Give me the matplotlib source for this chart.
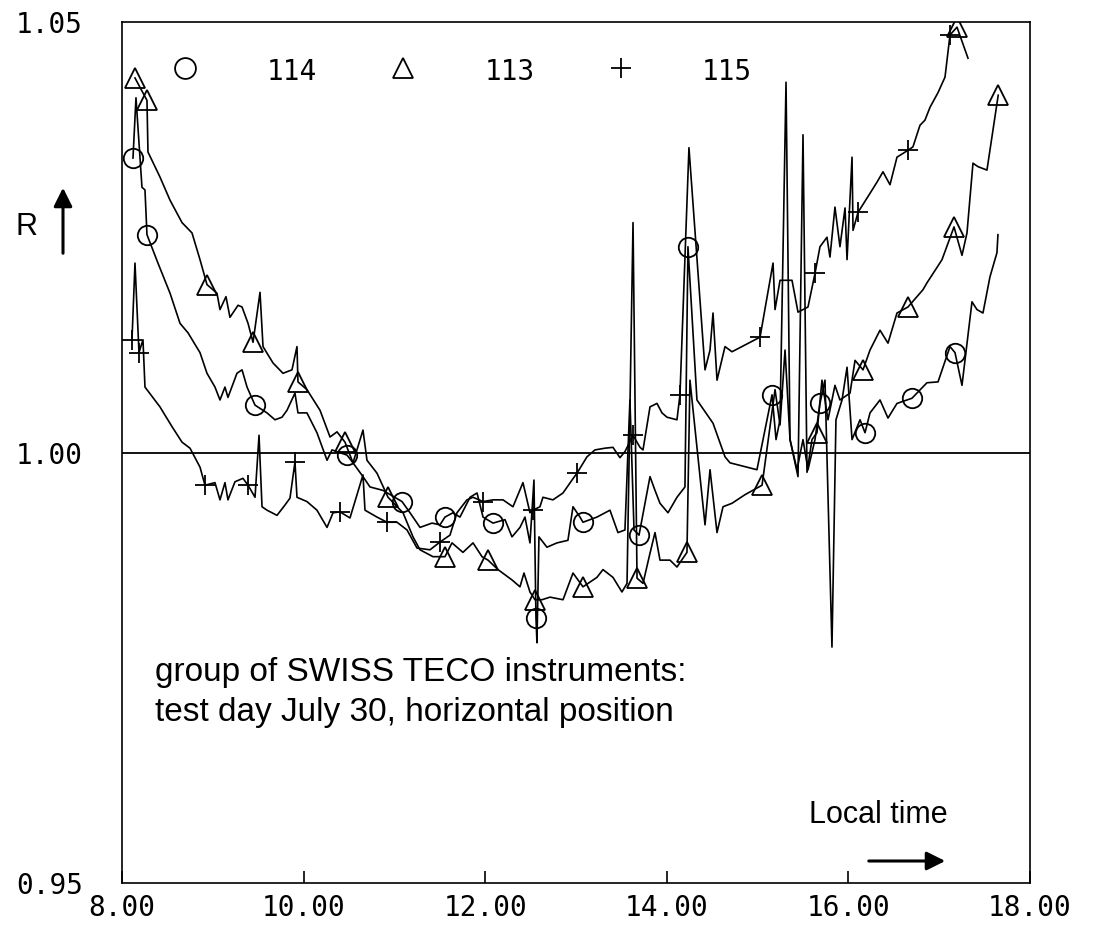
import matplotlib
matplotlib.use("Agg")
from matplotlib import pyplot as plt

# local time (h) and ratio R, one pair of lists per instrument
t_113 = [8.143, 8.275, 8.286, 8.418, 8.529, 8.661, 8.771, 8.859, 8.936, 9.046,
         9.079, 9.145, 9.189, 9.278, 9.322, 9.388, 9.443, 9.520, 9.553, 9.663,
         9.773, 9.872, 9.927, 9.938, 10.037, 10.181, 10.291, 10.368, 10.456, 10.544,
         10.654, 10.698, 10.808, 10.930, 11.095, 11.205, 11.282, 11.425, 11.557, 11.634,
         11.755, 11.866, 11.965, 12.031, 12.141, 12.295, 12.383, 12.427, 12.493, 12.548,
         12.625, 12.714, 12.857, 12.967, 13.077, 13.231, 13.297, 13.407, 13.506, 13.562,
         13.628, 13.672, 13.738, 13.815, 13.870, 13.925, 14.035, 14.112, 14.222, 14.255,
         14.421, 14.476, 14.553, 14.619, 14.718, 14.861, 15.049, 15.192, 15.247, 15.302,
         15.357, 15.445, 15.500, 15.544, 15.599, 15.654, 15.709, 15.775, 15.852, 15.907,
         16.018, 16.073, 16.161, 16.238, 16.348, 16.436, 16.535, 16.656, 16.755, 16.821,
         16.865, 16.976, 17.031, 17.163, 17.251, 17.306, 17.372, 17.427, 17.526, 17.630,
         17.650]
r_113 = [1.0435, 1.0409, 1.0349, 1.0320, 1.0293, 1.0267, 1.0255, 1.0224, 1.0195, 1.0185,
         1.0166, 1.0181, 1.0157, 1.0171, 1.0169, 1.0150, 1.0128, 1.0186, 1.0123, 1.0104,
         1.0092, 1.0096, 1.0123, 1.0082, 1.0073, 1.0049, 1.0018, 1.0024, 1.0012, 0.9988,
         1.0026, 0.9991, 0.9976, 0.9948, 0.9930, 0.9902, 0.9887, 0.9879, 0.9879, 0.9895,
         0.9884, 0.9895, 0.9879, 0.9875, 0.9864, 0.9852, 0.9844, 0.9860, 0.9838, 0.9829,
         0.9829, 0.9832, 0.9829, 0.9860, 0.9844, 0.9855, 0.9864, 0.9855, 0.9838, 0.9848,
         1.0267, 0.9854, 0.9848, 0.9883, 0.9907, 0.9875, 0.9875, 0.9867, 0.9884, 1.0084,
         0.9916, 0.9980, 0.9907, 0.9937, 0.9941, 0.9951, 0.9962, 1.0073, 1.0032, 1.0119,
         1.0015, 0.9972, 1.0369, 0.9977, 1.0015, 1.0023, 1.0084, 1.0038, 1.0078, 1.0061,
         1.0069, 1.0107, 1.0096, 1.0119, 1.0142, 1.0127, 1.0162, 1.0169, 1.0181, 1.0189,
         1.0197, 1.0215, 1.0224, 1.0262, 1.0229, 1.0255, 1.0336, 1.0332, 1.0328, 1.0401,
         1.0415]
marks_113 = [0, 1, 8, 16, 23, 28, 33, 38, 43, 49, 54, 61, 68, 76, 85, 92, 97, 103, 110]

t_114 = [8.121, 8.154, 8.220, 8.253, 8.275, 8.396, 8.529, 8.639, 8.727, 8.859,
         8.936, 9.024, 9.079, 9.134, 9.167, 9.266, 9.322, 9.377, 9.465, 9.597,
         9.685, 9.762, 9.817, 9.905, 9.938, 10.037, 10.147, 10.258, 10.313, 10.478,
         10.544, 10.654, 10.731, 10.874, 11.084, 11.172, 11.282, 11.414, 11.502, 11.557,
         11.645, 11.722, 11.833, 11.910, 11.976, 12.086, 12.218, 12.295, 12.383, 12.438,
         12.493, 12.537, 12.559, 12.570, 12.592, 12.680, 12.790, 12.911, 12.967, 13.044,
         13.077, 13.231, 13.374, 13.462, 13.539, 13.594, 13.639, 13.694, 13.815, 13.870,
         13.925, 14.013, 14.112, 14.200, 14.233, 14.332, 14.509, 14.641, 14.696, 14.993,
         15.159, 15.203, 15.247, 15.313, 15.357, 15.434, 15.500, 15.555, 15.632, 15.687,
         15.742, 15.819, 15.863, 15.930, 15.985, 16.040, 16.128, 16.183, 16.238, 16.348,
         16.436, 16.535, 16.700, 16.865, 16.987, 17.119, 17.174, 17.251, 17.361, 17.416,
         17.482, 17.559, 17.636, 17.647]
r_114 = [1.0342, 1.0412, 1.0308, 1.0305, 1.0253, 1.0220, 1.0185, 1.0150, 1.0139, 1.0116,
         1.0092, 1.0076, 1.0061, 1.0076, 1.0064, 1.0092, 1.0096, 1.0076, 1.0055, 1.0046,
         1.0038, 1.0041, 1.0049, 1.0069, 1.0046, 1.0046, 1.0023, 0.9991, 1.0003, 0.9997,
         0.9988, 0.9972, 0.9960, 0.9956, 0.9943, 0.9930, 0.9913, 0.9918, 0.9916, 0.9925,
         0.9930, 0.9925, 0.9948, 0.9953, 0.9925, 0.9918, 0.9922, 0.9902, 0.9913, 0.9925,
         0.9895, 0.9968, 0.9808, 0.9779, 0.9902, 0.9890, 0.9895, 0.9898, 0.9937, 0.9925,
         0.9919, 0.9925, 0.9933, 0.9907, 0.9910, 1.0061, 0.9910, 0.9904, 0.9972, 0.9956,
         0.9941, 0.9930, 0.9948, 0.9960, 1.0239, 1.0061, 1.0034, 0.9995, 0.9988, 0.9980,
         1.0067, 1.0015, 1.0038, 1.0430, 1.0015, 0.9980, 1.0015, 0.9980, 1.0015, 1.0057,
         1.0084, 0.9774, 1.0038, 1.0061, 1.0099, 1.0015, 1.0038, 1.0023, 1.0046, 1.0061,
         1.0040, 1.0057, 1.0063, 1.0081, 1.0082, 1.0123, 1.0116, 1.0078, 1.0175, 1.0166,
         1.0162, 1.0204, 1.0232, 1.0253]
marks_114 = [0, 4, 18, 29, 34, 39, 45, 52, 60, 67, 74, 80, 89, 97, 102, 106]

t_115 = [8.110, 8.143, 8.187, 8.231, 8.253, 8.418, 8.551, 8.661, 8.749, 8.859,
         8.914, 9.024, 9.079, 9.134, 9.167, 9.244, 9.332, 9.388, 9.465, 9.509,
         9.542, 9.597, 9.707, 9.795, 9.850, 9.905, 9.927, 10.037, 10.147, 10.258,
         10.324, 10.401, 10.511, 10.654, 10.676, 10.808, 10.918, 11.029, 11.139, 11.249,
         11.392, 11.502, 11.612, 11.689, 11.799, 11.866, 11.976, 12.086, 12.196, 12.306,
         12.416, 12.493, 12.526, 12.603, 12.636, 12.746, 12.857, 12.956, 13.011, 13.121,
         13.209, 13.319, 13.407, 13.484, 13.539, 13.628, 13.705, 13.738, 13.815, 13.892,
         13.947, 14.002, 14.112, 14.145, 14.244, 14.421, 14.476, 14.509, 14.553, 14.641,
         14.718, 15.027, 15.170, 15.192, 15.247, 15.379, 15.445, 15.555, 15.632, 15.687,
         15.764, 15.797, 15.852, 15.907, 15.963, 15.985, 16.040, 16.051, 16.106, 16.238,
         16.315, 16.381, 16.458, 16.535, 16.656, 16.711, 16.788, 16.843, 16.899, 16.987,
         17.064, 17.119, 17.196, 17.317]
r_115 = [1.0131, 1.0220, 1.0116, 1.0131, 1.0076, 1.0053, 1.0030, 1.0012, 1.0005, 0.9983,
         0.9962, 0.9965, 0.9945, 0.9965, 0.9945, 0.9966, 0.9970, 0.9962, 0.9948, 1.0020,
         0.9937, 0.9933, 0.9927, 0.9939, 0.9947, 0.9989, 0.9948, 0.9943, 0.9933, 0.9913,
         0.9930, 0.9931, 0.9924, 0.9974, 0.9933, 0.9925, 0.9919, 0.9919, 0.9910, 0.9889,
         0.9887, 0.9896, 0.9904, 0.9930, 0.9945, 0.9948, 0.9943, 0.9945, 0.9945, 0.9937,
         0.9965, 0.9930, 0.9933, 0.9937, 0.9948, 0.9945, 0.9953, 0.9968, 0.9976, 0.9995,
         1.0003, 1.0005, 1.0006, 0.9994, 1.0001, 1.0020, 1.0006, 1.0003, 1.0053, 1.0057,
         1.0046, 1.0041, 1.0038, 1.0067, 1.0354, 1.0096, 1.0119, 1.0162, 1.0084, 1.0123,
         1.0117, 1.0134, 1.0220, 1.0166, 1.0200, 1.0200, 1.0163, 1.0169, 1.0208, 1.0239,
         1.0250, 1.0227, 1.0285, 1.0239, 1.0284, 1.0224, 1.0343, 1.0258, 1.0279, 1.0301,
         1.0314, 1.0326, 1.0311, 1.0343, 1.0351, 1.0355, 1.0380, 1.0386, 1.0401, 1.0418,
         1.0436, 1.0485, 1.0494, 1.0458]
marks_115 = [0, 2, 10, 17, 25, 31, 36, 41, 46, 52, 58, 65, 73, 81, 88, 98, 104, 111]

x_ticks = [8, 10, 12, 14, 16, 18]
x_labels = ["8.00", "10.00", "12.00", "14.00", "16.00", "18.00"]
y_ticks = [0.95, 1.00, 1.05]
y_labels = ["0.95", "1.00", "1.05"]

W, H = 1102, 933
mono = "DejaVu Sans Mono"


def fx(px):
    return px / W


def fy(py):
    return 1 - py / H


fig = plt.figure(figsize=(W / 100, H / 100), dpi=100)
ax = fig.add_axes([fx(122), fy(883), fx(1030) - fx(122), fy(22) - fy(883)])
ax.set_xlim(8, 18)
ax.set_ylim(0.95, 1.05)

line_kw = dict(color="black", lw=1.2, mfc="none", mec="black", mew=1.3, ms=14)
ax.plot(t_113, r_113, marker="^", markevery=marks_113, **line_kw)
ax.plot(t_114, r_114, marker="o", markevery=marks_114, **line_kw)
ax.plot(t_115, r_115, marker="+", markevery=marks_115, **line_kw)
# the pen drew a triangle at the top of the 115 curve
ax.plot(t_115[112], r_115[112], marker="^", ls="none", mfc="none", mec="black", mew=1.3, ms=14)

ax.axhline(1.0, color="black", lw=1.3)

ax.set_xticks(x_ticks)
ax.set_xticklabels(x_labels, family=mono, fontsize=20)
ax.set_yticks(y_ticks)
ax.set_yticklabels(y_labels, family=mono, fontsize=20)
ax.tick_params(axis="x", direction="in", length=9, width=1.2, pad=8)
ax.tick_params(axis="y", length=0, pad=28)
for sp in ax.spines.values():
    sp.set_linewidth(1.2)

# legend along the top, drawn like the plotter did it
for sym, lab, xs, xl in [("o", "114", 185, 267), ("^", "113", 403, 485), ("+", "115", 621, 702)]:
    fig.lines.append(plt.Line2D([fx(xs)], [fy(68)], marker=sym, ms=15, mfc="none", mec="black",
                                mew=1.3, transform=fig.transFigure))
    fig.text(fx(xl), fy(72), lab, family=mono, fontsize=20, va="center", ha="left")

# R with an up arrow
fig.text(fx(15), fy(227), "R", family="Liberation Sans", fontsize=22, va="center", ha="left")
ax.annotate("", xy=(fx(63), fy(185)), xytext=(fx(63), fy(256)), xycoords="figure fraction",
            textcoords="figure fraction",
            arrowprops=dict(arrowstyle="-|>", lw=2.2, color="black", mutation_scale=28))

fig.text(fx(155), fy(672), "group of SWISS TECO instruments:", family="Liberation Sans",
         fontsize=24, va="center", ha="left")
fig.text(fx(155), fy(712), "test day July 30, horizontal position", family="Liberation Sans",
         fontsize=24, va="center", ha="left")

fig.text(fx(948), fy(815), "Local time", family="Liberation Sans", fontsize=22,
         va="center", ha="right")
ax.annotate("", xy=(fx(948), fy(861)), xytext=(fx(866), fy(861)), xycoords="figure fraction",
            textcoords="figure fraction",
            arrowprops=dict(arrowstyle="-|>", lw=2.2, color="black", mutation_scale=28))

fig.savefig("out.png", dpi=100)
